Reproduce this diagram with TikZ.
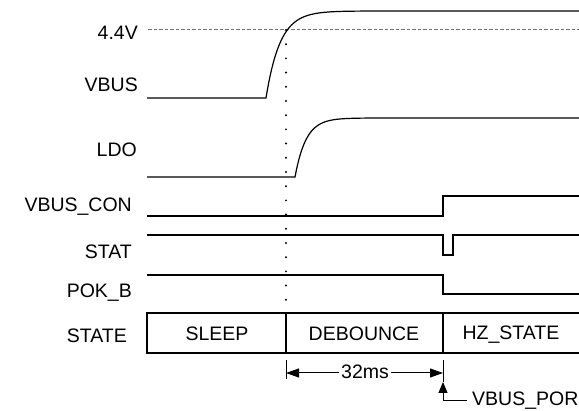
\documentclass[tikz,border=0pt]{standalone}
\usepackage{fontspec}
\setmainfont{Liberation Sans}
\usetikzlibrary{arrows.meta}

\begin{document}
\begin{tikzpicture}[
        x=1pt, y=-1pt,
        every node/.style={font=\fontsize{19.5}{22}\selectfont, inner sep=0pt},
        signame/.style={anchor=base east},
        statename/.style={anchor=base},
        wave/.style={line width=1.2pt},
        guide/.style={black!55, line width=1pt, dash pattern=on 3.5pt off 2pt},
        marker/.style={line width=2.2pt, line cap=round, dash pattern=on 0pt off 14.2pt},
        dim/.style={{Triangle[length=13pt,width=9pt]}-{Triangle[length=13pt,width=9pt]}, line width=1pt},
        pointer/.style={-{Triangle[length=11pt,width=9pt]}, line width=1pt}
    ]
    \useasboundingbox (0,0) rectangle (579,411);

    % Signal names
    \node[signame] (lvl)    at (138,40)  {4.4V};
    \node[signame] (vbus)   at (138,92)  {VBUS};
    \node[signame] (ldo)    at (137,157) {LDO};
    \node[signame] (vbcon)  at (132,212) {VBUS\_CON};
    \node[signame] (stat)   at (132,259) {STAT};
    \node[signame] (pokb)   at (132,298) {POK\_B};
    \node[signame] (state)  at (127,343) {STATE};

    % 4.4V threshold
    \draw[guide] (148,30) -- (579,30);

    % Waveforms
    \draw[wave] (147,98) -- (266,98)
        -- plot[domain=0:120, samples=90] ({266+\x},{11+87*exp(-\x/14)}) -- (579,11);
    \draw[wave] (147,177) -- (295,177)
        -- plot[domain=0:90, samples=70] ({295+\x},{118+59*exp(-\x/11)}) -- (579,118);
    \draw[wave] (147,216) -- (443,216) -- (443,196) -- (579,196);
    \draw[wave] (147,235) -- (443,235) -- (443,255) -- (453,255) -- (453,235) -- (579,235);
    \draw[wave] (147,275) -- (443,275) -- (443,294) -- (579,294);

    % State bar
    \draw[wave] (579,313) -- (147,313) -- (147,353) -- (579,353);
    \draw[wave] (286,313) -- (286,353);
    \draw[wave] (443,313) -- (443,353);
    \node[statename] (sleep)    at (217,341) {SLEEP};
    \node[statename] (debounce) at (364,341) {DEBOUNCE};
    \node[statename] (hzstate)  at (511,340) {HZ\_STATE};

    % Crossing marker
    \draw[marker] (286,30) -- (286,313);

    % Debounce time
    \coordinate (tl) at (286,373);
    \coordinate (tr) at (443,373);
    \draw[line width=1pt] (286,360) -- (286,379);
    \draw[line width=1pt] (443,360) -- (443,382);
    \draw[dim] (tl) -- (tr);
    \node[anchor=base, fill=white, inner xsep=2pt] (dur) at (365,379) {32ms};

    % Power-on reset
    \node[anchor=base west] (por) at (472,406) {VBUS\_POR};
    \coordinate (porstart) at (467,401);
    \coordinate (portip) at (443,382);
    \draw[pointer] (porstart) -| (portip);

\end{tikzpicture}
\end{document}
